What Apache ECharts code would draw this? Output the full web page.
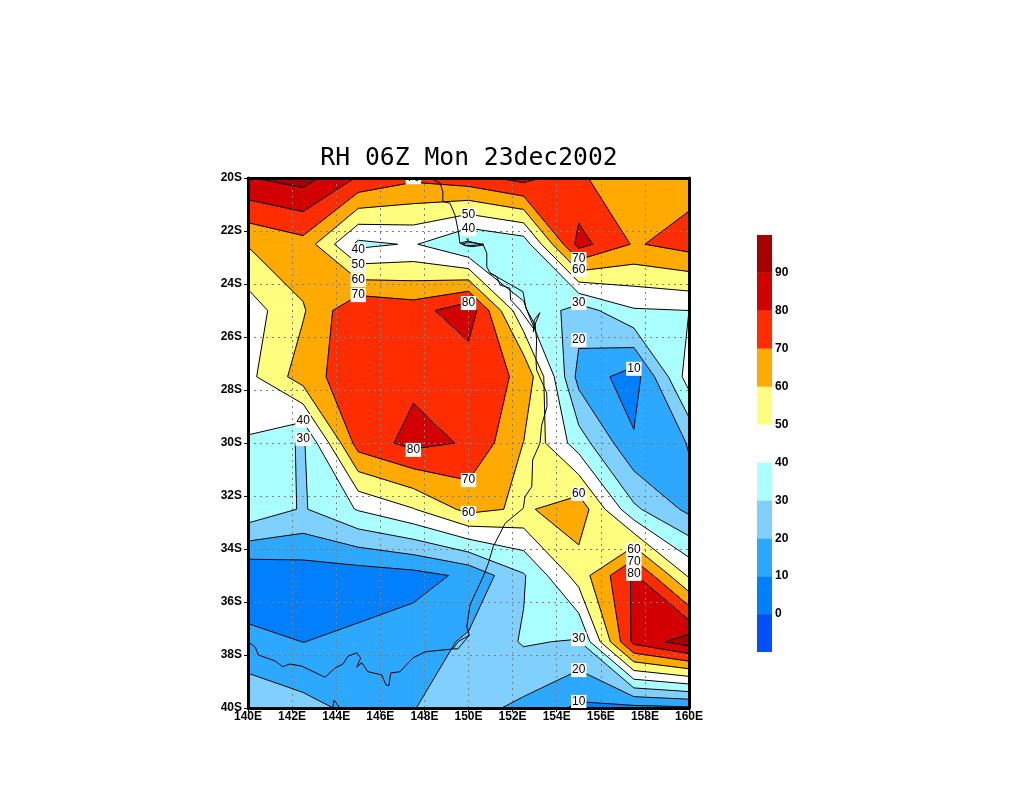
<!DOCTYPE html>
<html>
<head>
<meta charset="utf-8">
<style>html,body{margin:0;padding:0;background:#fff}#c{width:1024px;height:800px}</style>
<script src="https://cdn.jsdelivr.net/npm/echarts@6/dist/echarts.min.js"></script>
</head>
<body>
<div id="c"></div>
<script>
const titleText = 'RH 06Z Mon 23dec2002';
const lons = [140, 142.5, 145, 147.5, 150, 152.5, 155, 157.5, 160];
const lats = [-20, -22.5, -25, -27.5, -30, -32.5, -35, -37.5, -40];
const rh20S   = [89.5, 94, 79, 72, 76, 83.5, 72, 60.5, 66];
const rh22S   = [60.6, 66.4, 37.5, 41, 28.5, 34, 83.7, 69, 74];
const rh25S   = [45, 59, 79.5, 75.5, 87, 41, 24.7, 39, 40];
const rh27S   = [47.2, 65, 77, 78, 72, 69.3, 16.5, 5, 45];
const rh30S   = [39, 28.5, 74.5, 83, 79, 59.8, 35, 11.3, 20.5];
const rh32S   = [37.6, 29, 40.8, 49.5, 63, 58.3, 66.4, 32, 17.5];
const rh35S   = [1, 4.2, 4.5, 6.5, 12, 29, 54.5, 81.7, 48.5];
const rh37S   = [13.4, 9.9, 12.2, 15, 21.5, 31, 29, 83, 95.4];
const rh40S   = [27.3, 23.1, 17.4, 19.8, 23.5, 17.7, 8, 7, 8.5];
const rhRows = [rh20S, rh22S, rh25S, rh27S, rh30S, rh32S, rh35S, rh37S, rh40S];

const bandLows = [-10, 0, 10, 20, 30, 40, 50, 60, 70, 80, 90];
const bandColors = ['#0050ff', '#007fff', '#2da8ff', '#7fd0ff', '#aaffff', '#ffffff', '#ffff7f', '#ffaa00', '#ff2d00', '#d20000', '#a80000'];
const contourLevels = [0, 10, 20, 30, 40, 50, 60, 70, 80, 90];
const xTickLabels = ['140E', '142E', '144E', '146E', '148E', '150E', '152E', '154E', '156E', '158E', '160E'];
const yTickLabels = ['40S', '38S', '36S', '34S', '32S', '30S', '28S', '26S', '24S', '22S', '20S'];

const contourLabels = [
  [147.5, -19.97, '70'], [150, -21.40, '50'], [150, -21.92, '40'], [145, -22.72, '40'], [145, -23.28, '50'],
  [145, -23.85, '60'], [145, -24.42, '70'], [150, -24.72, '80'], [155, -23.06, '70'], [155, -23.47, '60'],
  [155, -24.72, '30'], [155, -26.11, '20'], [157.5, -27.2, '10'], [142.5, -29.17, '40'], [142.5, -29.85, '30'],
  [147.5, -30.26, '80'], [150, -31.4, '70'], [150, -32.64, '60'], [155, -31.92, '60'], [157.5, -34.04, '60'],
  [157.5, -34.49, '70'], [157.5, -34.94, '80'], [155, -37.4, '30'], [155, -38.57, '20'], [155, -39.77, '10']
];

const coastNorth = [[148.25,-20],[148.71,-20.19],[148.84,-20.52],[148.83,-20.89],[149.16,-20.95],[149.39,-21.4],[149.54,-22.03],[149.61,-22.46],[149.98,-22.38],[150.67,-22.53],[150.83,-22.84],[150.83,-23.35],[150.97,-23.58],[151.28,-23.72],[151.43,-24.04],[151.88,-24.16],[151.91,-24.6],[152.34,-24.98],[152.93,-25.66]];
const coastIsland = [[150.67,-22.53],[150.2,-22.59],[149.84,-22.55],[149.61,-22.46]];
const coastIslet = [[149.92,-22.28],[149.98,-22.38]];
const coastBay = [[150.97,-23.58],[152.47,-24.29],[152.61,-24.92],[153.02,-25.55],[153.09,-26.11],[153.06,-26.87],[153.09,-27.25],[153.55,-28.11],[153.56,-28.63],[153.32,-29.32],[153.24,-30.01],[152.91,-30.64],[152.87,-31.65],[152.56,-32.03],[152.49,-32.46],[151.66,-33.03],[151.43,-33.41],[151.12,-33.91],[150.9,-34.54],[150.66,-35.05],[150.07,-36.11],[149.92,-36.93],[150.04,-37.25],[149.52,-37.5],[149.3,-37.77],[148.03,-37.88],[147.48,-38.11],[146.89,-38.63],[146.47,-38.68],[146.39,-39.16],[146.26,-39.13],[146.06,-38.75],[145.44,-38.63],[145.16,-38.29],[144.93,-38.46],[145.11,-38.11],[144.93,-37.92],[144.54,-38.04],[144.31,-38.34],[143.95,-38.49],[143.49,-38.84],[142.44,-38.42],[141.9,-38.34],[141.57,-38.44],[141.22,-38.22],[140.47,-38],[140.32,-37.69],[140,-37.51]];
const coastCape = [[150.04,-37.25],[149.52,-37.77],[149.3,-37.77]];
const coastFraser = [[153.24,-25.08],[152.98,-25.36],[152.94,-25.8],[153.06,-25.43],[153.24,-25.08]];
const coastKing = [[143.85,-39.96],[143.9,-39.7],[144.13,-39.96]];
const coastSegments = [coastNorth, coastIsland, coastIslet, coastBay, coastCape, coastFraser, coastKing];

const cells = [];
for (let j = 0; j < lats.length - 1; j++) {
  for (let i = 0; i < lons.length - 1; i++) cells.push([lons[i], lats[j], i, j]);
}

function cellCorners(api, i, j) {
  return [[i, j], [i + 1, j], [i + 1, j + 1], [i, j + 1]].map(function (c) {
    const p = api.coord([lons[c[0]], lats[c[1]]]);
    return { x: p[0], y: p[1], v: rhRows[c[1]][c[0]] };
  });
}
function crossPoint(a, b, level) {
  const t = (level - a.v) / (b.v - a.v);
  return { x: a.x + t * (b.x - a.x), y: a.y + t * (b.y - a.y), v: level };
}
// true when a cell is a saddle at this level and its bilinear centre keeps the high corners joined
function highsJoined(c, level) {
  const h = c.map(function (p) { return p.v >= level; });
  if (!(h[0] === h[2] && h[1] === h[3] && h[0] !== h[1])) return false;
  const a = c[0].v, b = c[1].v, d = c[2].v, e = c[3].v;
  return (a * d - b * e) / (a + d - b - e) >= level;
}
function partsAbove(c, level) {
  const n = c.length;
  if (highsJoined(c, level)) {
    const out = [];
    for (let k = 0; k < n; k++) {
      const a = c[k], b = c[(k + 1) % n];
      if (a.v >= level) out.push(a);
      if ((a.v >= level) !== (b.v >= level)) out.push(crossPoint(a, b, level));
    }
    return [out];
  }
  let firstUp = -1, anyHigh = false;
  for (let k = 0; k < n; k++) {
    const hi = c[k].v >= level, next = c[(k + 1) % n].v >= level;
    if (hi) anyHigh = true;
    if (!hi && next && firstUp < 0) firstUp = k;
  }
  if (!anyHigh) return [];
  if (firstUp < 0) return [c];
  const parts = [];
  let cur = null;
  for (let s = 0; s < n; s++) {
    const a = c[(firstUp + s) % n], b = c[(firstUp + s + 1) % n];
    const ah = a.v >= level, bh = b.v >= level;
    if (!ah && bh) cur = [crossPoint(a, b, level)];
    if (ah && cur) cur.push(a);
    if (ah && !bh) { cur.push(crossPoint(a, b, level)); parts.push(cur); cur = null; }
  }
  return parts;
}
function segmentsAt(c, level) {
  const n = c.length, segs = [];
  if (highsJoined(c, level)) {
    for (let k = 0; k < n; k++) {
      if (c[k].v < level) {
        segs.push([crossPoint(c[(k + n - 1) % n], c[k], level), crossPoint(c[k], c[(k + 1) % n], level)]);
      }
    }
    return segs;
  }
  partsAbove(c, level).forEach(function (part) {
    if (part[0].v === level && part[part.length - 1].v === level && part !== c) {
      segs.push([part[0], part[part.length - 1]]);
    }
  });
  return segs;
}
function renderFill(params, api) {
  const children = [];
  const all = cells.map(function (cell) { return cellCorners(api, cell[2], cell[3]); });
  bandLows.forEach(function (lo, n) {
    all.forEach(function (corners) {
      const parts = n === 0 ? [corners] : partsAbove(corners, lo);
      parts.forEach(function (poly) {
        children.push({
          type: 'polygon',
          shape: { points: poly.map(function (p) { return [p.x, p.y]; }) },
          style: { fill: bandColors[n], stroke: bandColors[n], lineWidth: 0.8 },
          silent: true
        });
      });
    });
  });
  return { type: 'group', children: children };
}
function renderLines(params, api) {
  const c = cellCorners(api, api.value(2), api.value(3));
  const children = [];
  contourLevels.forEach(function (level) {
    segmentsAt(c, level).forEach(function (s) {
      children.push({
        type: 'line',
        shape: { x1: s[0].x, y1: s[0].y, x2: s[1].x, y2: s[1].y },
        style: { stroke: '#000', lineWidth: 1 },
        silent: true
      });
    });
  });
  return { type: 'group', children: children };
}
function renderLabel(params, api) {
  const p = api.coord([api.value(0), api.value(1)]);
  return {
    type: 'text',
    silent: true,
    style: {
      x: p[0], y: p[1], text: contourLabels[params.dataIndex][2],
      align: 'center', verticalAlign: 'middle',
      font: '12px "Liberation Sans"', fill: '#000',
      backgroundColor: '#fff', padding: [1, 1, 1, 1]
    }
  };
}
function renderBar(params, api) {
  const lo = api.value(0);
  const a = api.coord([0, lo + 10]), b = api.coord([1, lo]);
  return {
    type: 'rect',
    shape: { x: a[0], y: a[1], width: b[0] - a[0], height: b[1] - a[1] },
    style: { fill: bandColors[params.dataIndex] },
    silent: true
  };
}

const tickFont = { fontFamily: 'Liberation Sans', fontWeight: 'bold', fontSize: 12, color: '#000' };
const gridLine = { show: true, lineStyle: { color: '#808080', width: 1, type: [2, 4] } };
const plainBorder = { show: true, onZero: false, lineStyle: { color: '#000', width: 3 } };

const chart = echarts.init(document.getElementById('c'), null, { renderer: 'canvas' });
chart.setOption({
  animation: false,
  backgroundColor: '#fff',
  title: {
    text: titleText, left: 464, top: 141, textAlign: 'center',
    textStyle: { fontFamily: 'DejaVu Sans Mono', fontWeight: 'normal', fontSize: 24.7, color: '#000' }
  },
  grid: [
    { left: 248, top: 178, width: 441, height: 530 },
    { left: 757, top: 235, width: 15, height: 417 }
  ],
  xAxis: [
    { type: 'value', gridIndex: 0, min: 140, max: 160, interval: 2, z: 3, position: 'bottom',
      axisLine: plainBorder, axisTick: { show: true, length: 4, lineStyle: { color: '#000', width: 1 } },
      axisLabel: Object.assign({ margin: 3, formatter: function (v) { return xTickLabels[Math.round((v - 140) / 2)]; } }, tickFont),
      splitLine: gridLine },
    { type: 'value', gridIndex: 0, min: 140, max: 160, interval: 2, z: 7, position: 'top',
      axisLine: plainBorder, axisTick: { show: false }, axisLabel: { show: false }, splitLine: { show: false } },
    { type: 'value', gridIndex: 1, min: 0, max: 1, show: false }
  ],
  yAxis: [
    { type: 'value', gridIndex: 0, min: -40, max: -20, interval: 2, z: 3, position: 'left',
      axisLine: plainBorder, axisTick: { show: true, length: 4, lineStyle: { color: '#000', width: 1 } },
      axisLabel: Object.assign({ margin: 6, formatter: function (v) { return yTickLabels[Math.round((v + 40) / 2)]; } }, tickFont),
      splitLine: gridLine },
    { type: 'value', gridIndex: 0, min: -40, max: -20, interval: 2, z: 7, position: 'right',
      axisLine: plainBorder, axisTick: { show: false }, axisLabel: { show: false }, splitLine: { show: false } },
    { type: 'value', gridIndex: 1, min: -10, max: 100, interval: 10, position: 'right',
      axisLine: { show: false }, axisTick: { show: false }, splitLine: { show: false },
      axisLabel: Object.assign({ margin: 3, formatter: function (v) { return (v === -10 || v === 100) ? '' : String(v); } }, tickFont) }
  ],
  series: [
    { type: 'custom', z: 2, clip: true, xAxisIndex: 0, yAxisIndex: 0, data: [cells[0]], encode: { x: 0, y: 1 }, renderItem: renderFill, silent: true },
    { type: 'custom', z: 4, clip: true, xAxisIndex: 0, yAxisIndex: 0, data: cells, encode: { x: 0, y: 1 }, renderItem: renderLines, silent: true }
  ].concat(coastSegments.map(function (seg) {
    return { type: 'line', z: 5, xAxisIndex: 0, yAxisIndex: 0, data: seg, showSymbol: false, symbol: 'none', clip: true,
      lineStyle: { color: '#000', width: 1 }, silent: true };
  })).concat([
    { type: 'custom', z: 6, clip: true, xAxisIndex: 0, yAxisIndex: 0, data: contourLabels.map(function (l) { return [l[0], l[1]]; }), encode: { x: 0, y: 1 }, renderItem: renderLabel, silent: true },
    { type: 'custom', z: 2, xAxisIndex: 2, yAxisIndex: 2, data: bandLows.map(function (lo) { return [lo]; }), encode: { y: 0 }, renderItem: renderBar, silent: true }
  ])
});
</script>
</body>
</html>
